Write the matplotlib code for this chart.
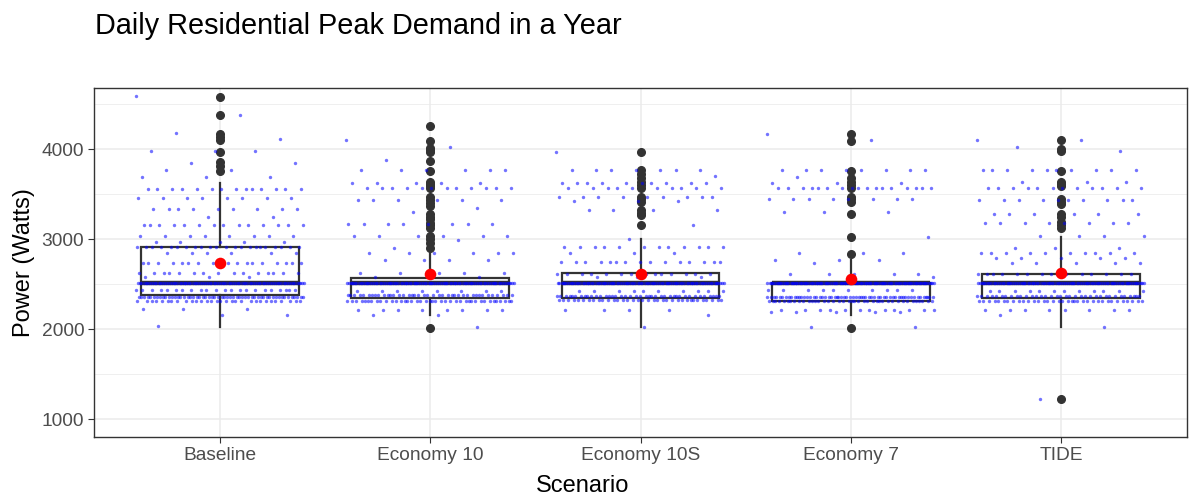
import numpy as np
import matplotlib.pyplot as plt

plt.rcParams['font.family'] = ['Liberation Sans', 'DejaVu Sans']

scenarios = ['Baseline', 'Economy 10', 'Economy 10S', 'Economy 7', 'TIDE']

# box stats (W)
q1 = [2378, 2341, 2341, 2311, 2348]
med = [2508, 2508, 2508, 2508, 2508]
q3 = [2908, 2563, 2619, 2508, 2611]
whislo = [2026, 2156, 2026, 2156, 2026]
whishi = [3619, 2841, 2996, 2767, 3026]
means = [2730, 2608, 2608, 2552, 2626]

outliers = [
    [4581, 4378, 4167, 4130, 4100, 3974, 3852, 3814, 3759],
    [4259, 4093, 4011, 3989, 3970, 3867, 3759, 3633, 3611, 3589, 3563, 3463, 3433,
     3404, 3367, 3278, 3248, 3219, 3181, 3156, 3126, 3033, 3000, 2952, 2896, 2015],
    [3974, 3767, 3719, 3674, 3637, 3600, 3563, 3470, 3441, 3415, 3322, 3293, 3267, 3156],
    [4167, 4093, 3759, 3681, 3637, 3600, 3563, 3470, 3441, 3415, 3274, 3022, 2833, 2015],
    [4100, 4007, 3981, 3759, 3637, 3611, 3589, 3441, 3415, 3389, 3278, 3248, 3193,
     3156, 3119, 1222],
]

# daily peaks: value levels and how many days sit on each
base_levels = [4590, 4385, 4175, 4110, 3980, 3850, 3770, 3690, 3560, 3460, 3330, 3250,
               3160, 3030, 2970, 2910, 2850, 2740, 2620, 2580, 2510, 2430, 2360, 2310,
               2220, 2160, 2030]
base_counts = [1, 1, 1, 1, 3, 2, 2, 3, 14, 8, 9, 2, 14, 8, 5, 22, 6, 18, 15, 3, 90, 22,
               55, 30, 3, 2, 1]
e10_levels = [4107, 4026, 3880, 3767, 3620, 3563, 3440, 3350, 3300, 3167, 3033, 2990,
              2900, 2841, 2767, 2619, 2580, 2508, 2426, 2378, 2315, 2211, 2156, 2026]
e10_counts = [1, 1, 1, 6, 5, 12, 6, 1, 1, 8, 6, 1, 1, 6, 4, 5, 2, 100, 8, 40, 40, 8, 2, 1]
e10s_levels = [3974, 3767, 3700, 3620, 3563, 3470, 3420, 3320, 3160, 2996, 2908, 2850,
               2744, 2610, 2580, 2508, 2426, 2367, 2320, 2211, 2156, 2026]
e10s_counts = [1, 7, 1, 10, 10, 9, 3, 4, 1, 1, 12, 3, 15, 14, 3, 100, 10, 40, 35, 4, 1, 1]
e7_levels = [4174, 4100, 3767, 3690, 3620, 3563, 3450, 3300, 3026, 2841, 2767, 2730,
             2607, 2580, 2508, 2430, 2356, 2311, 2211, 2185, 2026]
e7_counts = [1, 1, 8, 1, 3, 17, 8, 3, 1, 3, 3, 1, 5, 1, 120, 10, 60, 40, 12, 5, 2]
tide_levels = [4100, 4026, 3981, 3767, 3637, 3563, 3430, 3280, 3180, 3030, 2900, 2841,
               2785, 2730, 2610, 2508, 2426, 2367, 2315, 2211, 2156, 2026, 1222]
tide_counts = [2, 1, 1, 10, 3, 12, 10, 6, 8, 4, 3, 10, 5, 5, 15, 100, 12, 35, 35, 8, 1, 1, 1]

levels = [base_levels, e10_levels, e10s_levels, e7_levels, tide_levels]
counts = [base_counts, e10_counts, e10s_counts, e7_counts, tide_counts]

fig = plt.figure(figsize=(11.89, 4.96), dpi=100)
ax = fig.add_axes([94 / 1189, 1 - 437 / 496, 1093 / 1189, 349 / 496])

pos = np.arange(1, len(scenarios) + 1)
stats = []
for i in range(len(scenarios)):
    stats.append(dict(med=med[i], q1=q1[i], q3=q3[i], whislo=whislo[i],
                      whishi=whishi[i], fliers=outliers[i], label=scenarios[i]))

ax.bxp(stats, positions=pos, widths=0.75, showcaps=False, patch_artist=True,
       boxprops=dict(facecolor='white', edgecolor='#333333', linewidth=1.6),
       medianprops=dict(color='#333333', linewidth=3.2),
       whiskerprops=dict(color='#333333', linewidth=1.6),
       flierprops=dict(marker='o', markerfacecolor='#333333', markeredgecolor='#333333',
                       markersize=5.5),
       zorder=2)

# jitter (deterministic spread)
for i in range(len(scenarios)):
    vals = np.repeat(levels[i], counts[i])
    n = len(vals)
    off = ((np.arange(n) * 0.6180339887) % 1 - 0.5) * 0.8
    ax.scatter(pos[i] + off, vals, s=6, color='blue', alpha=0.55, linewidths=0, zorder=3)

ax.scatter(pos, means, s=70, color='red', zorder=4, linewidths=0)

ax.set_xlim(0.4, 5.6)
ax.set_ylim(800, 4680)
ax.set_xticks(pos)
ax.set_xticklabels(scenarios)
ax.set_yticks([1000, 2000, 3000, 4000])
ax.set_yticks([1500, 2500, 3500, 4500], minor=True)
ax.grid(True, which='major', color='#EBEBEB', linewidth=1.1, zorder=0)
ax.grid(True, which='minor', axis='y', color='#EBEBEB', linewidth=0.55, zorder=0)
ax.set_axisbelow(True)
ax.tick_params(axis='both', which='major', length=4, color='#333333', labelsize=13.8,
               labelcolor='#4D4D4D', pad=3)
ax.tick_params(axis='y', which='minor', length=0)
for sp in ax.spines.values():
    sp.set_color('#333333')
    sp.set_linewidth(1.0)

ax.set_xlabel('Scenario', fontsize=17, color='black')
ax.xaxis.set_label_coords(0.447, -0.108)
ax.set_ylabel('Power (Watts)', fontsize=17, color='black', labelpad=5)
fig.text(95 / 1189, 1 - 34 / 496, 'Daily Residential Peak Demand in a Year',
         fontsize=20.8, color='black', ha='left', va='baseline')

fig.savefig('out.png', dpi=100)
